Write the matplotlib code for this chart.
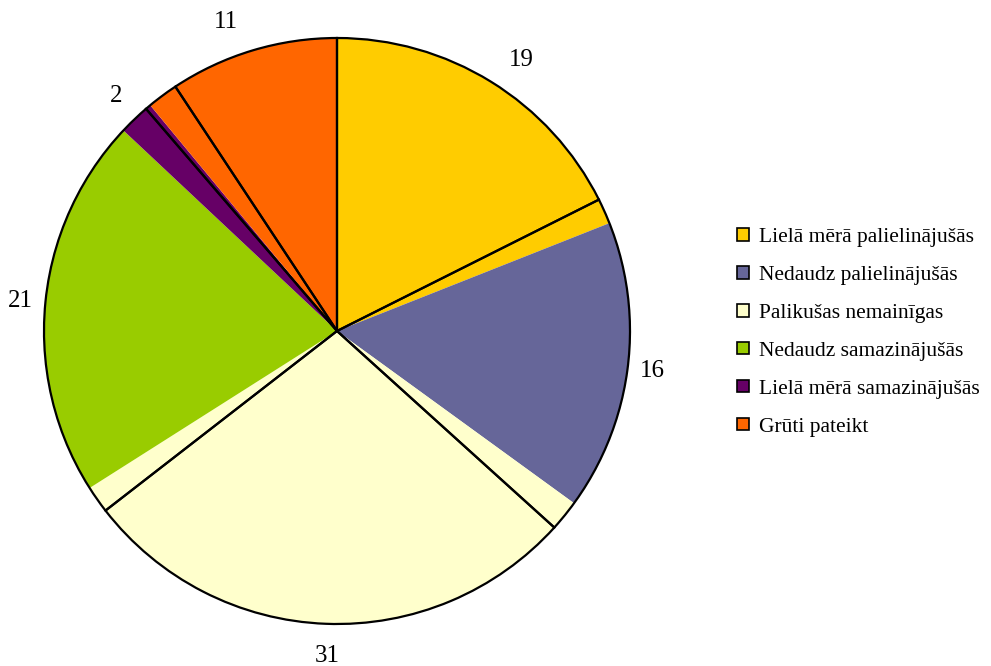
import numpy as np
import matplotlib
matplotlib.use("Agg")
import matplotlib.pyplot as plt
from matplotlib.patches import Patch

# -----------------------------
# Data
# -----------------------------
categories = [
    "Lielā mērā palielinājušās",
    "Nedaudz palielinājušās",
    "Palikušas nemainīgas",
    "Nedaudz samazinājušās",
    "Lielā mērā samazinājušās",
    "Grūti pateikt",
]
values = [19, 16, 31, 21, 2, 11]
# second (outlined) series whose wedge edges show through
values_outline = [17.6, 19.1, 27.8, 24.2, 2.0, 9.3]
colors = ["#FFCC00", "#666699", "#FFFFCC", "#99CC00", "#660066", "#FF6600"]

plt.rcParams["font.family"] = ["Liberation Serif", "DejaVu Serif"]

fig = plt.figure(figsize=(9.91, 6.66), dpi=100)
R = 293
ax = fig.add_axes([(337 - R) / 991, (666 - 331 - R) / 666, 2 * R / 991, 2 * R / 666])

wedges, _ = ax.pie(
    values,
    colors=colors,
    startangle=90,
    counterclock=False,
    radius=1.0,
    wedgeprops=dict(linewidth=0),
)

ax.pie(
    values_outline,
    colors=["none"] * len(values_outline),
    startangle=90,
    counterclock=False,
    radius=1.0,
    wedgeprops=dict(linewidth=1.6, edgecolor="black", facecolor="none"),
)

# value labels outside each coloured wedge
label_dist = [1.12, 1.085, 1.11, 1.085, 1.10, 1.12]
for w, v, d in zip(wedges, values, label_dist):
    mid = np.deg2rad((w.theta1 + w.theta2) / 2)
    ax.text(d * np.cos(mid), d * np.sin(mid), str(v),
            ha="center", va="center", fontsize=18, clip_on=False)

ax.set_xlim(-1, 1)
ax.set_ylim(-1, 1)
ax.set_aspect("equal")
ax.axis("off")

handles = [Patch(facecolor=c, edgecolor="black", linewidth=1.2) for c in colors]
fig.legend(
    handles, categories,
    loc="upper left",
    bbox_to_anchor=(737 / 991, 1 - 228 / 666),
    frameon=False,
    fontsize=15.5,
    handlelength=0.56,
    handleheight=0.52,
    handletextpad=0.45,
    labelspacing=0.88,
    borderaxespad=0,
    borderpad=0,
)

plt.savefig("out.png", dpi=100)
